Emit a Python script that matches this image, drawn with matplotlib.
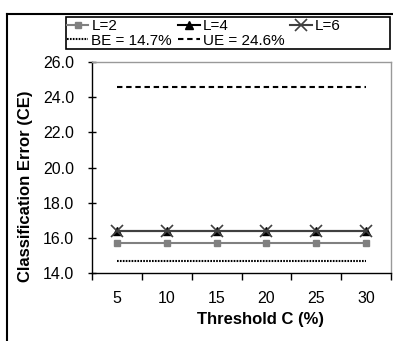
import matplotlib
matplotlib.use("Agg")
from matplotlib import pyplot as plt
from matplotlib.lines import Line2D
from matplotlib.patches import Rectangle

plt.rcParams['font.family'] = ['Liberation Sans', 'DejaVu Sans']

categories = ['5', '10', '15', '20', '25', '30']
l2 = [15.7, 15.7, 15.7, 15.7, 15.7, 15.7]
l4 = [16.4, 16.4, 16.4, 16.4, 16.4, 16.4]
l6 = [16.4, 16.4, 16.4, 16.4, 16.4, 16.4]
be = [14.7, 14.7, 14.7, 14.7, 14.7, 14.7]
ue = [24.6, 24.6, 24.6, 24.6, 24.6, 24.6]
yticks = [14, 16, 18, 20, 22, 24, 26]

x = list(range(1, len(categories) + 1))

W, H = 393, 341
fig = plt.figure(figsize=(W / 100, H / 100), dpi=100)
ax = fig.add_axes([92 / W, (H - 273) / H, 299 / W, 211 / H])

h_l2, = ax.plot(x, l2, color='#808080', lw=1.5, marker='s', ms=5, label='L=2')
h_l4, = ax.plot(x, l4, color='black', lw=1.5, marker='^', ms=6, label='L=4')
h_l6, = ax.plot(x, l6, color='#404040', lw=1.5, marker='x', ms=9, mew=1.2, label='L=6')
h_be, = ax.plot(x, be, color='black', lw=1.5, ls=(0, (0.8, 0.6)), label='BE = 14.7%')
h_ue, = ax.plot(x, ue, color='black', lw=1.5, ls=(0, (2.6, 1.8)), label='UE = 24.6%')

ax.set_xlim(0.5, 6.5)
ax.set_ylim(14, 26)
ax.set_yticks(yticks)
ax.set_yticklabels([f'{v:.1f}' for v in yticks])
ax.set_xticks([i + 0.5 for i in range(0, 7)])
ax.set_xticklabels([])
ax.set_xticks(x, minor=True)
ax.set_xticklabels(categories, minor=True)
ax.tick_params(axis='x', which='major', direction='out', length=5, width=1)
ax.tick_params(axis='x', which='minor', length=0, pad=13, labelsize=11.5)
ax.tick_params(axis='y', direction='inout', length=6, width=1, labelsize=11.5, pad=10)

for side in ['top', 'right']:
    ax.spines[side].set_color('#999999')
    ax.spines[side].set_linewidth(1)
for side in ['left', 'bottom']:
    ax.spines[side].set_color('black')
    ax.spines[side].set_linewidth(1)

ax.set_xlabel('Threshold C (%)', fontsize=12, fontweight='bold')
ax.set_ylabel('Classification Error (CE)', fontsize=12, fontweight='bold')
ax.xaxis.set_label_coords(0.565, -0.185)
ax.yaxis.set_label_coords(-0.197, 0.412)

leg = fig.legend([h_l2, h_be, h_l4, h_ue, h_l6],
                 ['L=2', 'BE = 14.7%', 'L=4', 'UE = 24.6%', 'L=6'],
                 ncol=3, loc='upper left', bbox_to_anchor=(67 / W, 1 - 19 / H),
                 frameon=False, fontsize=11,
                 handlelength=1.4, handletextpad=0.2, columnspacing=0.4,
                 labelspacing=0.05, borderpad=0.0, borderaxespad=0)
fig.add_artist(Rectangle((66 / W, 1 - 49 / H), 324 / W, 32 / H, transform=fig.transFigure,
                         fill=False, edgecolor='black', lw=1.2))

fig.add_artist(Line2D([7 / W, 7 / W], [0, 1 - 14 / H], color='black', lw=1.5, transform=fig.transFigure))
fig.add_artist(Line2D([7 / W, 1], [1 - 14 / H, 1 - 14 / H], color='black', lw=1.5, transform=fig.transFigure))

fig.savefig('out.png', dpi=100)
